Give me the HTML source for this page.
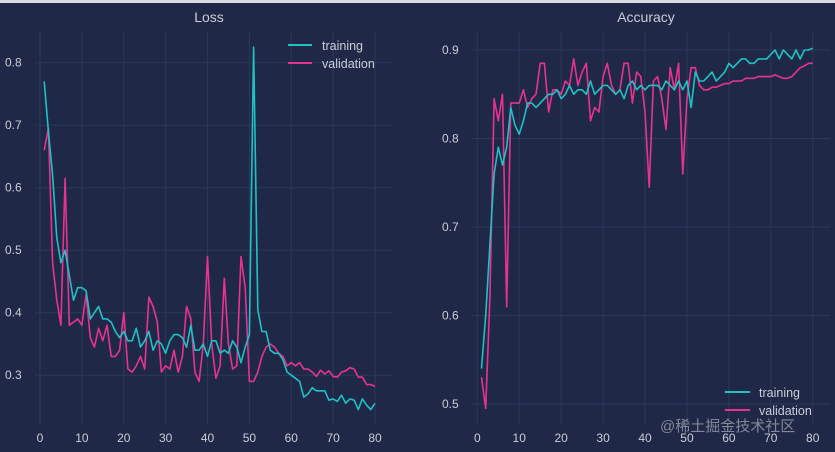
<!DOCTYPE html>
<html><head><meta charset="utf-8"><style>
html,body{margin:0;padding:0;background:#1f2947;}
svg{display:block;}
text{font-family:"Liberation Sans","DejaVu Sans",sans-serif;fill:#c9cdd8;}
</style></head><body>
<svg id="s" width="835" height="452" viewBox="0 0 835 452">
<rect x="0" y="0" width="835" height="452" fill="#1f2947"/>
<rect x="0" y="0" width="835" height="3" fill="#d8dbe2"/>
<g id="g"></g>
<text x="209" y="22" font-size="14" text-anchor="middle">Loss</text>
<text x="646" y="22" font-size="14" text-anchor="middle">Accuracy</text>
<line x1="288" y1="45" x2="312" y2="45" stroke="#1fc1c3" stroke-width="2"/>
<text x="322" y="50" font-size="12.5">training</text>
<line x1="288" y1="63" x2="312" y2="63" stroke="#e8328f" stroke-width="2"/>
<text x="322" y="68" font-size="12.5">validation</text>
<line x1="725" y1="392" x2="750" y2="392" stroke="#1fc1c3" stroke-width="2"/>
<text x="759" y="397" font-size="12.5">training</text>
<line x1="725" y1="410" x2="750" y2="410" stroke="#e8328f" stroke-width="2"/>
<text x="759" y="415" font-size="12.5">validation</text>
<text x="660" y="431" font-size="15" style="fill:#9aa0ae;opacity:0.8;font-family:'Liberation Sans','Noto Sans CJK SC',sans-serif">@稀土掘金技术社区</text>
</svg>
<script>
var g=document.getElementById('g'),NS='http://www.w3.org/2000/svg';
function el(t,a,txt){var e=document.createElementNS(NS,t);for(var k in a)e.setAttribute(k,a[k]);if(txt!=null)e.textContent=txt;g.appendChild(e);return e;}
// Loss axes
function lx(e){return 40+e*4.1875;} function ly(v){return 62.7+(0.8-v)*625;}
function ax(e){return 477.3+e*4.193;} function ay(v){return 50+(0.9-v)*885;}
for(var i=0;i<=8;i++){var x=lx(i*10);el('line',{x1:x,y1:32,x2:x,y2:425,stroke:'#2d3858','stroke-width':1});el('text',{x:x,y:442,'font-size':12,'text-anchor':'middle'},String(i*10));}
[0.3,0.4,0.5,0.6,0.7,0.8].forEach(function(v){var y=ly(v);el('line',{x1:35,y1:y,x2:392,y2:y,stroke:'#2d3858','stroke-width':1});el('text',{x:5,y:y+4,'font-size':12},v.toFixed(1));});
for(var i=0;i<=8;i++){var x=ax(i*10);el('line',{x1:x,y1:32,x2:x,y2:425,stroke:'#2d3858','stroke-width':1});el('text',{x:x,y:442,'font-size':12,'text-anchor':'middle'},String(i*10));}
[0.5,0.6,0.7,0.8,0.9].forEach(function(v){var y=ay(v);el('line',{x1:472,y1:y,x2:830,y2:y,stroke:'#2d3858','stroke-width':1});el('text',{x:442,y:y+4,'font-size':12},v.toFixed(1));});
var lt=[0.77,0.69,0.62,0.52,0.48,0.50,0.46,0.42,0.44,0.44,0.435,0.39,0.40,0.41,0.39,0.39,0.385,0.37,0.36,0.37,0.355,0.355,0.375,0.345,0.355,0.37,0.34,0.355,0.35,0.335,0.355,0.365,0.365,0.36,0.345,0.38,0.34,0.34,0.35,0.33,0.355,0.355,0.335,0.34,0.335,0.355,0.345,0.32,0.345,0.365,0.825,0.405,0.37,0.37,0.34,0.335,0.335,0.325,0.305,0.3,0.295,0.29,0.265,0.27,0.28,0.275,0.275,0.275,0.26,0.262,0.258,0.268,0.255,0.262,0.26,0.245,0.262,0.252,0.245,0.255];
var lv=[0.66,0.695,0.48,0.42,0.38,0.615,0.38,0.385,0.39,0.38,0.43,0.36,0.345,0.375,0.355,0.38,0.33,0.33,0.34,0.40,0.31,0.305,0.315,0.33,0.31,0.425,0.41,0.385,0.305,0.315,0.31,0.34,0.305,0.33,0.41,0.39,0.305,0.29,0.35,0.49,0.35,0.295,0.315,0.455,0.35,0.31,0.315,0.49,0.44,0.29,0.29,0.305,0.33,0.345,0.35,0.345,0.335,0.33,0.315,0.32,0.315,0.32,0.31,0.31,0.305,0.298,0.308,0.302,0.307,0.298,0.297,0.305,0.307,0.312,0.31,0.297,0.297,0.285,0.285,0.282];
var at=[0.54,0.60,0.68,0.76,0.79,0.77,0.79,0.835,0.815,0.805,0.82,0.84,0.84,0.835,0.84,0.845,0.85,0.85,0.855,0.845,0.85,0.86,0.85,0.855,0.855,0.85,0.865,0.85,0.855,0.86,0.86,0.855,0.85,0.855,0.845,0.86,0.865,0.855,0.86,0.855,0.86,0.86,0.86,0.855,0.865,0.86,0.855,0.865,0.855,0.865,0.835,0.875,0.865,0.865,0.87,0.875,0.865,0.87,0.875,0.885,0.88,0.885,0.89,0.89,0.885,0.885,0.89,0.89,0.89,0.895,0.9,0.89,0.9,0.895,0.89,0.9,0.89,0.9,0.9,0.902];
var av=[0.53,0.495,0.62,0.845,0.82,0.85,0.61,0.84,0.84,0.84,0.855,0.835,0.845,0.85,0.885,0.885,0.83,0.855,0.855,0.85,0.865,0.86,0.89,0.86,0.875,0.885,0.82,0.835,0.83,0.87,0.885,0.86,0.85,0.855,0.885,0.885,0.84,0.875,0.87,0.83,0.745,0.865,0.87,0.845,0.81,0.88,0.855,0.885,0.76,0.845,0.88,0.88,0.86,0.855,0.855,0.858,0.858,0.86,0.862,0.862,0.865,0.865,0.865,0.868,0.868,0.868,0.87,0.87,0.87,0.87,0.872,0.87,0.868,0.868,0.87,0.875,0.88,0.882,0.885,0.885];
function pl(d,fx,fy,c){var p=d.map(function(v,i){return fx(i+1).toFixed(1)+','+fy(v).toFixed(1);}).join(' ');el('polyline',{points:p,fill:'none',stroke:c,'stroke-width':1.6,'stroke-linejoin':'round'});}
pl(lv,lx,ly,'#e8328f');pl(lt,lx,ly,'#1fc1c3');
pl(av,ax,ay,'#e8328f');pl(at,ax,ay,'#1fc1c3');
</script>
</body></html>
